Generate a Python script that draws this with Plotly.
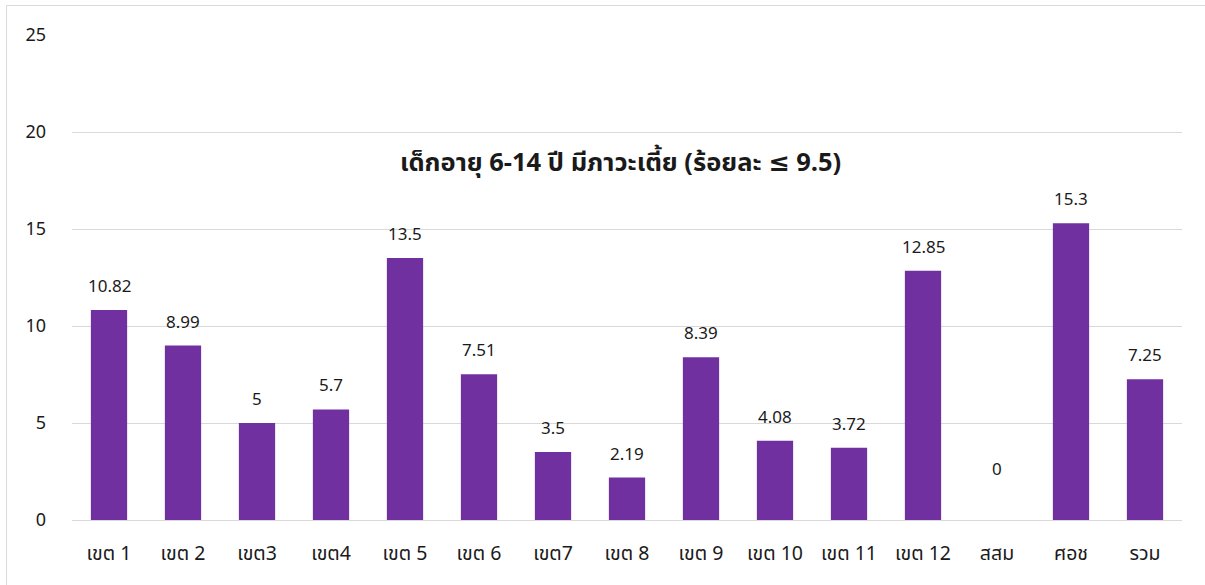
import plotly.graph_objects as go

categories = ["เขต 1", "เขต 2", "เขต3", "เขต4", "เขต 5", "เขต 6", "เขต7", "เขต 8",
              "เขต 9", "เขต 10", "เขต 11", "เขต 12", "สสม", "ศอช", "รวม"]
values = [10.82, 8.99, 5, 5.7, 13.5, 7.51, 3.5, 2.19, 8.39, 4.08, 3.72, 12.85, 0, 15.3, 7.25]
labels = ["10.82", "8.99", "5", "5.7", "13.5", "7.51", "3.5", "2.19", "8.39", "4.08",
          "3.72", "12.85", "0", "15.3", "7.25"]
title_text = "เด็กอายุ 6-14 ปี มีภาวะเตี้ย (ร้อยละ ≤ 9.5)"
y_ticks = [0, 5, 10, 15, 20, 25]

FONT = "Tahoma, 'Noto Sans Thai', 'Noto Sans', 'DejaVu Sans', sans-serif"
TXT = "#1a1a1a"

fig = go.Figure()
fig.add_trace(go.Bar(
    x=categories, y=values,
    marker=dict(color="#7030A0", line=dict(width=0)),
    hoverinfo="x+y",
))

for c, v, t in zip(categories, values, labels):
    fig.add_annotation(
        x=c, y=v, text=t, showarrow=False,
        yanchor="middle", yshift=(50 if v == 0 else 23),
        font=dict(family=FONT, size=17, color=TXT),
    )

fig.add_annotation(
    xref="paper", yref="paper", x=0.494, y=0.736,
    text="<b>" + title_text + "</b>", showarrow=False,
    xanchor="center", yanchor="middle",
    font=dict(family=FONT, size=25.5, color=TXT),
)

L, R, T, B = 72, 23, 35, 65
W, H = 1205, 585
pw, ph = W - L - R, H - T - B
fig.add_shape(
    type="rect", xref="paper", yref="paper",
    x0=(6.5 - L) / pw, x1=(1212 - L) / pw,
    y0=-(592 - (H - B)) / ph, y1=((H - B) - 5.5) / ph,
    line=dict(color="#D9D9D9", width=1), fillcolor="rgba(0,0,0,0)", layer="below",
)

fig.update_layout(
    width=W, height=H,
    margin=dict(l=L, r=R, t=T, b=B, pad=0),
    paper_bgcolor="white", plot_bgcolor="white",
    bargap=0.51,
    showlegend=False,
    font=dict(family=FONT, size=17, color=TXT),
    xaxis=dict(
        showgrid=False, showline=True, linecolor="#D9D9D9", linewidth=1,
        ticks="", ticklabelstandoff=16,
        tickfont=dict(family=FONT, size=19.5, color=TXT),
        fixedrange=True,
    ),
    yaxis=dict(
        range=[0, 25], tickvals=y_ticks, showgrid=True, gridcolor="#D9D9D9", gridwidth=1,
        zeroline=True, zerolinecolor="#D9D9D9", zerolinewidth=1,
        showline=False, ticks="", ticklabelstandoff=25,
        tickfont=dict(family=FONT, size=18, color=TXT),
        fixedrange=True,
    ),
)

fig.write_html("out.html", config={"displayModeBar": False},
               post_script="document.body.style.margin='0';document.body.style.overflow='hidden';")
